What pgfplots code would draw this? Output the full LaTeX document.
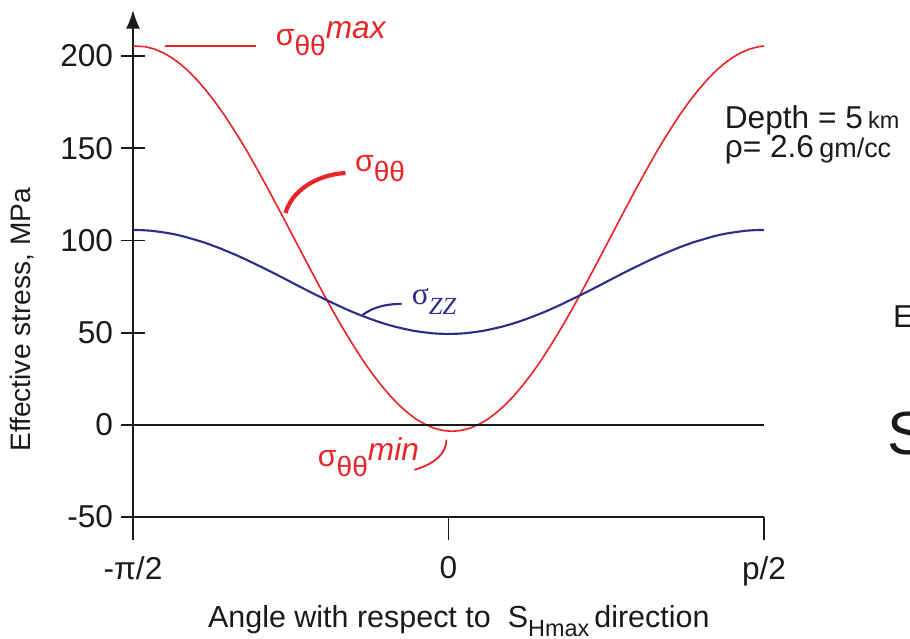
\documentclass[border=0pt]{standalone}
\usepackage{fontspec}
\setmainfont{Liberation Sans}
\newfontfamily\serif{Liberation Serif}
\usepackage{pgfplots}
\pgfplotsset{compat=1.18}
\usetikzlibrary{arrows.meta}
\definecolor{sred}{HTML}{E8262A}
\definecolor{sblue}{HTML}{2E2C87}
\definecolor{ink}{HTML}{1A1A1A}

\newcommand{\fs}[1]{\fontsize{#1}{#1}\selectfont}
% sigma with theta-theta subscript and an italic superscript
\newcommand{\sigl}[2]{σ\raisebox{-0.33em}{\fs{12}#1}\raisebox{0.2em}{\fs{13.5}\itshape #2}}

\begin{document}
\begin{tikzpicture}
\useasboundingbox (0,0) rectangle (13.65cm,9.585cm);
\begin{axis}[
  at={(1.995cm,1.83cm)}, anchor=south west,
  scale only axis, width=9.465cm, height=7.605cm,
  xmin=-90, xmax=90, ymin=-50, ymax=225,
  axis x line=bottom, axis y line=left,
  x axis line style={-, line width=0.8pt, ink},
  y axis line style={-{Latex[length=2.8mm,width=2.1mm]}, line width=0.8pt, ink},
  xtick={-90,0,90}, xticklabels={-π/2,0,p/2},
  ytick={-50,0,50,100,150,200}, yticklabels={-50,0,50,100,150,200},
  xtick align=outside, ytick align=center,
  major tick length=0.35cm,
  tick style={line width=0.8pt, ink},
  ticklabel style={font=\fs{13.5}, color=ink},
  xticklabel style={yshift=-0.12cm},
  clip=false,
]
% sigma_thetatheta
\addplot[color=sred, line width=0.7pt] coordinates {
  (-90,205.5) (-86.5,205.1) (-84,203.9) (-81.5,201.9) (-79,199.2) (-76.5,195.7)
  (-74,191.5) (-71.5,186.6) (-69,181.0) (-66.5,174.9) (-64,168.2) (-61.5,160.9)
  (-59,153.3) (-56.5,145.2) (-54,136.7) (-51.5,128.0) (-49,119.1) (-46.5,110.1)
  (-44,101.0) (-41.5,91.9) (-39,82.9) (-36.5,74.0) (-34,65.3) (-31.5,56.8)
  (-29,48.8) (-26.5,41.1) (-24,33.8) (-21.5,27.1) (-19,21.0) (-16.5,15.4)
  (-14,10.5) (-11.5,6.3) (-9,2.8) (-6.5,0.1) (-4,-1.9) (-1.5,-3.1)
  (1,-3.5) (3.5,-3.1) (6,-1.9) (8.5,0.1) (11,2.8) (13.5,6.3)
  (16,10.5) (18.5,15.4) (21,21.0) (23.5,27.1) (26,33.8) (28.5,41.1)
  (31,48.8) (33.5,56.8) (36,65.3) (38.5,74.0) (41,82.9) (43.5,91.9)
  (46,101.0) (48.5,110.1) (51,119.1) (53.5,128.0) (56,136.7) (58.5,145.2)
  (61,153.3) (63.5,160.9) (66,168.2) (68.5,174.9) (71,181.0) (73.5,186.6)
  (76,191.5) (78.5,195.7) (81,199.2) (83.5,201.9) (86,203.9) (88.5,205.1) (90,205.5)
};
% sigma_zz
\addplot[color=sblue, line width=0.9pt] coordinates {
  (-90,105.7) (-87.5,105.6) (-85,105.3) (-82.5,104.7) (-80,104.0) (-77.5,103.1)
  (-75,101.9) (-72.5,100.5) (-70,99.1) (-67.5,97.4) (-65,95.6) (-62.5,93.6)
  (-60,91.6) (-57.5,89.4) (-55,87.1) (-52.5,84.8) (-50,82.4) (-47.5,80.0)
  (-45,77.5) (-42.5,75.0) (-40,72.6) (-37.5,70.2) (-35,67.9) (-32.5,65.6)
  (-30,63.4) (-27.5,61.3) (-25,59.4) (-22.5,57.6) (-20,55.9) (-17.5,54.4)
  (-15,53.1) (-12.5,52.0) (-10,51.0) (-7.5,50.3) (-5,49.7) (-2.5,49.4)
  (0,49.3) (2.5,49.4) (5,49.7) (7.5,50.3) (10,51.0) (12.5,52.0)
  (15,53.1) (17.5,54.4) (20,55.9) (22.5,57.6) (25,59.4) (27.5,61.3)
  (30,63.4) (32.5,65.6) (35,67.9) (37.5,70.2) (40,72.6) (42.5,75.0)
  (45,77.5) (47.5,80.0) (50,82.4) (52.5,84.8) (55,87.1) (57.5,89.4)
  (60,91.6) (62.5,93.6) (65,95.6) (67.5,97.4) (70,99.1) (72.5,100.5)
  (75,101.9) (77.5,103.1) (80,104.0) (82.5,104.7) (85,105.3) (87.5,105.6) (90,105.7)
};
\draw[line width=0.8pt, ink] (axis cs:-90,0) -- (axis cs:90,0);

% annotations
\draw[sred, line width=0.8pt] (axis cs:-81,205.4) -- (axis cs:-54.8,205.4);
\node[anchor=base west, inner sep=0, text=sred, font=\fs{13}] at (axis cs:-49.4,206) {\sigl{θθ}{max}};
\draw[sred, line width=1.8pt] (axis cs:-46.5,114.9) .. controls (axis cs:-44.8,126.3) and (axis cs:-38.2,135.5) .. (axis cs:-29.4,136.6);
\node[anchor=base west, inner sep=0, text=sred, font=\fs{13}] at (axis cs:-26.8,137.2) {σ\raisebox{-0.33em}{\fs{12}θθ}};
\draw[sblue, line width=0.9pt] (axis cs:-24.5,59.6) .. controls (axis cs:-21.1,64.5) and (axis cs:-16.8,65.6) .. (axis cs:-13.4,65.6);
\node[anchor=base west, inner sep=0, text=sblue, font=\fs{13.5}\serif] at (axis cs:-10.6,65.0) {σ\raisebox{-0.3em}{\fs{10.5}\itshape ZZ}};
\draw[sred, line width=0.8pt] (axis cs:-9.7,-24.4) .. controls (axis cs:-3.1,-20.6) and (axis cs:-0.6,-14.6) .. (axis cs:-0.6,-8.1);
\node[anchor=base west, inner sep=0, text=sred, font=\fs{13}] at (axis cs:-37.4,-22.8) {\sigl{θθ}{min}};

\node[anchor=base west, inner sep=0, text=ink, font=\fs{13.5}] at (axis cs:78.7,160.8) {Depth = 5\,{\fs{10}km}};
\node[anchor=base west, inner sep=0, text=ink, font=\fs{13.5}] at (axis cs:78.7,145.0) {ρ= 2.6\,{\fs{11.5}gm/cc}};

% labels
\node[rotate=90, text=ink, font=\fs{12}] at (axis cs:-121.5,56.9) {Effective stress, MPa};
\node[anchor=base west, inner sep=0, text=ink, font=\fs{13}] at (axis cs:-68.7,-110) {Angle with respect to\ \ S\raisebox{-0.3em}{\fs{10}Hmax}\,direction};

% clipped letters of the neighbouring panel
\node[anchor=base west, inner sep=0, text=ink, font=\fs{13.5}] at (axis cs:126.7,52.6) {E};
\node[anchor=base west, inner sep=0, text=ink, font=\fs{26}] at (axis cs:125.2,-16.3) {S};
\end{axis}
\end{tikzpicture}
\end{document}
